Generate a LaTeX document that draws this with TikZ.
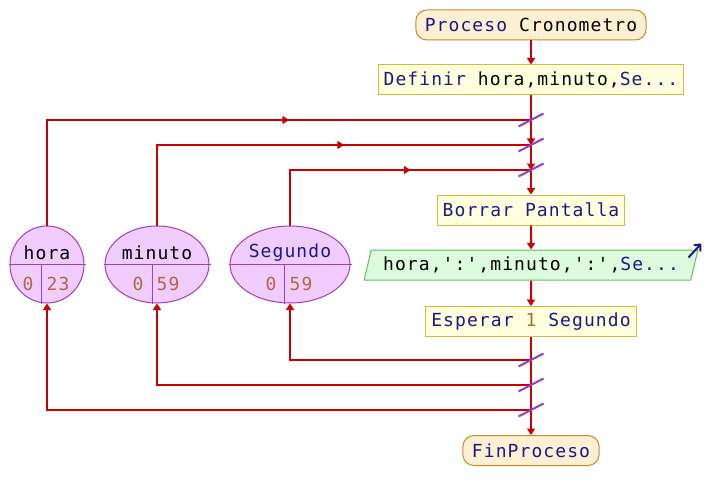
\documentclass[tikz,border=0pt]{standalone}
\usepackage{fontspec}
\newfontfamily\psfont{DejaVu Sans Mono}[LetterSpace=6]
\usetikzlibrary{arrows.meta,shapes.geometric,decorations.markings}

\definecolor{kwblue}{HTML}{1A1A8C}
\definecolor{numbrown}{HTML}{B06A3C}
\definecolor{flowred}{HTML}{CC0000}
\definecolor{slashpurple}{HTML}{9040D0}
\definecolor{varfill}{HTML}{F0CCFF}
\definecolor{varline}{HTML}{9A40C8}
\definecolor{boxfill}{HTML}{FFFFDD}
\definecolor{boxline}{HTML}{C8C040}
\definecolor{procfill}{HTML}{FFF0D2}
\definecolor{procline}{HTML}{C88A30}
\definecolor{iofill}{HTML}{DDFBDD}
\definecolor{ioline}{HTML}{60C060}

\tikzset{
  terminal/.style={draw=procline, fill=procfill, line width=1pt, rounded corners=11pt,
    minimum height=30pt, inner xsep=9pt, inner ysep=0pt},
  stepbox/.style={draw=boxline, fill=boxfill, line width=1pt,
    minimum height=30pt, inner xsep=5.5pt, inner ysep=0pt},
  iobox/.style={trapezium, trapezium left angle=68, trapezium right angle=112,
    trapezium stretches=true, draw=ioline, fill=iofill, line width=1pt,
    minimum height=30pt, minimum width=334pt, inner sep=0pt},
  varbox/.style={ellipse, draw=varline, fill=varfill, line width=1pt,
    minimum height=77pt, inner sep=0pt},
  link/.style={draw=flowred, line width=2pt},
  flow/.style={link, -{Triangle[width=8pt,length=6.5pt]}},
  midtip/.style={postaction={decorate, decoration={markings,
    mark=at position .5 with {\arrow[flowred]{Triangle[width=8pt,length=6.5pt]}}}}},
  slash/.style={draw=slashpurple, line width=2pt},
  num/.style={text=numbrown, inner sep=0pt},
  vartext/.style={inner sep=0pt}
}

\begin{document}
\begin{tikzpicture}[x=1pt,y=-1pt, font=\psfont\fontsize{18}{20}\selectfont]
\useasboundingbox[fill=white] (0,0) rectangle (704,500);

% flowchart steps
\node[terminal] (proc) at (531,25) {\textcolor{kwblue}{Proceso} Cronometro};
\node[stepbox] (def) at (531,80) {\textcolor{kwblue}{Definir} hora,minuto,\textcolor{kwblue}{Se...}};
\node[stepbox] (borrar) at (531,210) {\textcolor{kwblue}{Borrar Pantalla}};
\node[iobox] (out) at (531,265) {hora,':',minuto,':',\textcolor{kwblue}{Se...}};
\node[stepbox] (esperar) at (531,321.5) {\textcolor{kwblue}{Esperar} \textcolor{numbrown}{1} \textcolor{kwblue}{Segundo}};
\node[terminal] (fin) at (531,450.5) {\textcolor{kwblue}{FinProceso}};

% variables
\node[varbox, minimum width=74pt] (hora) at (47,264.5) {};
\node[varbox, minimum width=104pt] (minuto) at (157,264.5) {};
\node[varbox, minimum width=120pt] (segundo) at (290,264.5) {};

\draw[varline, line width=1pt] ([xshift=-1pt]hora.west) -- ([xshift=1pt]hora.east);
\draw[varline, line width=1pt] (41,264.5) -- (hora.south -| 41,0);
\draw[varline, line width=1pt] ([xshift=-1pt]minuto.west) -- ([xshift=1pt]minuto.east);
\draw[varline, line width=1pt] (152,264.5) -- (minuto.south -| 152,0);
\draw[varline, line width=1pt] ([xshift=-1pt]segundo.west) -- ([xshift=1pt]segundo.east);
\draw[varline, line width=1pt] (284,264.5) -- (segundo.south -| 284,0);

\node[vartext] (horaname) at (47,253) {hora};
\node[num] (horamin) at (28,284) {0};
\node[num] (horamax) at (58,284) {23};
\node[vartext] (minutoname) at (157,253) {minuto};
\node[num] (minutomin) at (138,284) {0};
\node[num] (minutomax) at (168,284) {59};
\node[vartext, text=kwblue] (segundoname) at (290,253) {Segundo};
\node[num] (segundomin) at (271,284) {0};
\node[num] (segundomax) at (301,284) {59};

% junctions
\coordinate (j1) at (531,120);
\coordinate (j2) at (531,145);
\coordinate (j3) at (531,170);
\coordinate (k1) at (531,360);
\coordinate (k2) at (531,385);
\coordinate (k3) at (531,410);

% main flow
\draw[flow] (proc.south) -- (def.north);
\draw[link] (def.south) -- (j1);
\draw[flow] (j1) -- (j2);
\draw[flow] (j2) -- (j3);
\draw[flow] (j3) -- (borrar.north);
\draw[flow] (borrar.south) -- (out.north);
\draw[flow] (out.south) -- (esperar.north);
\draw[link] (esperar.south) -- (k3);
\draw[flow] (k3) -- (fin.north);

% values going in
\draw[link] (hora.north) |- (j1);
\path[midtip] (hora.north |- j1) -- (j1);
\draw[link] (minuto.north) |- (j2);
\path[midtip] (minuto.north |- j2) -- (j2);
\draw[link] (segundo.north) |- (j3);
\path[midtip] (segundo.north |- j3) -- (j3);

% values coming back
\draw[flow] (k1) -| (segundo.south);
\draw[flow] (k2) -| (minuto.south);
\draw[flow] (k3) -| (hora.south);

% slashes
\foreach \j in {j1,j2,j3,k1,k2,k3}
  \draw[slash] ([shift={(-12.5,6.5)}]\j) -- ([shift={(12.5,-6.5)}]\j);

% output mark
\draw[kwblue, line width=2pt, -{Straight Barb[length=5pt,width=9pt]}]
  ([shift={(-10,8)}]out.top right corner) -- ([shift={(3,-6)}]out.top right corner);
\end{tikzpicture}
\end{document}
